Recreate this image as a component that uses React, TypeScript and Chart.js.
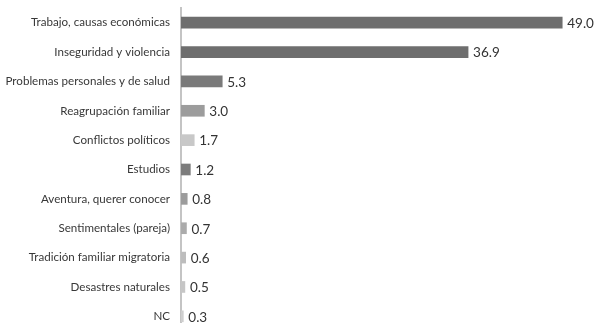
import React, { useEffect, useRef } from "react";
import { Chart, registerables } from "chart.js";

Chart.register(...registerables);

const categories = [
  "Trabajo, causas económicas",
  "Inseguridad y violencia",
  "Problemas personales y de salud",
  "Reagrupación familiar",
  "Conflictos políticos",
  "Estudios",
  "Aventura, querer conocer",
  "Sentimentales (pareja)",
  "Tradición familiar migratoria",
  "Desastres naturales",
  "NC",
];

const values = [49.0, 36.9, 5.3, 3.0, 1.7, 1.2, 0.8, 0.7, 0.6, 0.5, 0.3];

const barColors = [
  "#6e6e6e",
  "#6e6e6e",
  "#7a7a7a",
  "#9c9c9c",
  "#c8c8c8",
  "#7c7c7c",
  "#9c9c9c",
  "#ababab",
  "#bdbdbd",
  "#c6c6c6",
  "#cfcfcf",
];

const valueLabels = {
  id: "valueLabels",
  afterDatasetsDraw(chart: any) {
    const ctx = chart.ctx;
    const meta = chart.getDatasetMeta(0);
    ctx.save();
    ctx.font = "13.5px Lato, 'Open Sans', sans-serif";
    ctx.fillStyle = "#333333";
    ctx.textAlign = "left";
    ctx.textBaseline = "middle";
    meta.data.forEach((bar: any, i: number) => {
      const v = chart.data.datasets[0].data[i] as number;
      ctx.fillText(v.toFixed(1), bar.x + 5, bar.y + 1);
    });
    ctx.restore();
  },
};

export default function App() {
  const ref = useRef<HTMLCanvasElement>(null);
  useEffect(() => {
    if (!ref.current) return;
    const chart = new Chart(ref.current, {
      type: "bar",
      data: {
        labels: categories,
        datasets: [
          {
            data: values,
            backgroundColor: barColors,
            barThickness: 11,
          },
        ],
      },
      options: {
        indexAxis: "y",
        animation: false,
        responsive: false,
        layout: { padding: { top: 8, right: 29, bottom: 0, left: 0 } },
        plugins: {
          legend: { display: false },
          tooltip: { enabled: false },
        },
        scales: {
          x: { display: false, min: 0, max: 50 },
          y: {
            afterFit: (s: any) => {
              s.width = 181;
              s.paddingTop = 0;
              s.paddingBottom = 0;
            },
            grid: { display: false, drawTicks: false },
            border: { display: true, color: "#c4c4c4", width: 2 },
            ticks: {
              padding: 11,
              color: "#383838",
              font: { family: "Lato, 'Open Sans', sans-serif", size: 11.6 },
            },
          },
        },
      },
      plugins: [valueLabels],
    });
    return () => chart.destroy();
  }, []);
  return (
    <div
      style={{
        position: "fixed",
        top: 0,
        left: 0,
        width: 599,
        height: 323,
        overflow: "hidden",
        background: "#fff",
      }}
    >
      <canvas ref={ref} width={599} height={331} style={{ display: "block" }} />
    </div>
  );
}
